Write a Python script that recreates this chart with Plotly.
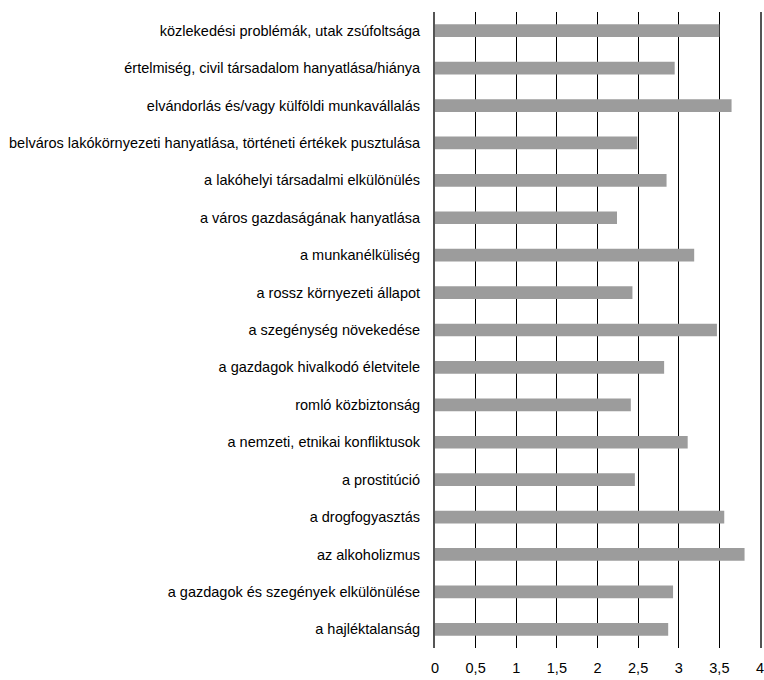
import plotly.graph_objects as go

categories = [
    "közlekedési problémák, utak zsúfoltsága",
    "értelmiség, civil társadalom hanyatlása/hiánya",
    "elvándorlás és/vagy külföldi munkavállalás",
    "belváros lakókörnyezeti hanyatlása, történeti értékek pusztulása",
    "a lakóhelyi társadalmi elkülönülés",
    "a város gazdaságának hanyatlása",
    "a munkanélküliség",
    "a rossz környezeti állapot",
    "a szegénység növekedése",
    "a gazdagok hivalkodó életvitele",
    "romló közbiztonság",
    "a nemzeti, etnikai konfliktusok",
    "a prostitúció",
    "a drogfogyasztás",
    "az alkoholizmus",
    "a gazdagok és szegények elkülönülése",
    "a hajléktalanság",
]
values = [3.50, 2.95, 3.65, 2.49, 2.85, 2.24, 3.19, 2.43, 3.47, 2.82,
          2.41, 3.11, 2.46, 3.56, 3.81, 2.93, 2.87]
tick_vals = [0, 0.5, 1, 1.5, 2, 2.5, 3, 3.5, 4]
tick_text = ["0", "0,5", "1", "1,5", "2", "2,5", "3", "3,5", "4"]

FONT = "Liberation Sans Narrow, Arial Narrow, Liberation Sans, sans-serif"

fig = go.Figure(go.Bar(
    x=values, y=categories, orientation="h",
    marker=dict(color="#9c9c9c", line=dict(width=0)),
))

fig.update_layout(
    width=764, height=680,
    margin=dict(l=435, r=4, t=12, b=32),
    paper_bgcolor="white", plot_bgcolor="white",
    bargap=0.66,
    showlegend=False,
    font=dict(family=FONT, size=14.5, color="black"),
)
fig.update_xaxes(
    range=[0, 4], tickvals=tick_vals, ticktext=tick_text,
    showgrid=True, gridcolor="#000000", gridwidth=1.2,
    zeroline=False,
    showline=False, ticks="", ticklabelstandoff=9,
    ticklabeloverflow="allow",
    tickfont=dict(size=14.5, family=FONT),
    automargin=False, fixedrange=True,
)
fig.update_yaxes(
    categoryorder="array", categoryarray=categories[::-1],
    showgrid=False, ticks="", ticklen=0,
    showline=True, mirror=True, linecolor="#555555", linewidth=2,
    ticklabelstandoff=10,
    tickfont=dict(size=14.5, family=FONT),
    automargin=False, fixedrange=True,
)

fig.write_html(
    "out.html",
    config={"displayModeBar": False, "staticPlot": True},
    post_script="document.body.style.margin='0';document.body.style.overflow='hidden';",
)
